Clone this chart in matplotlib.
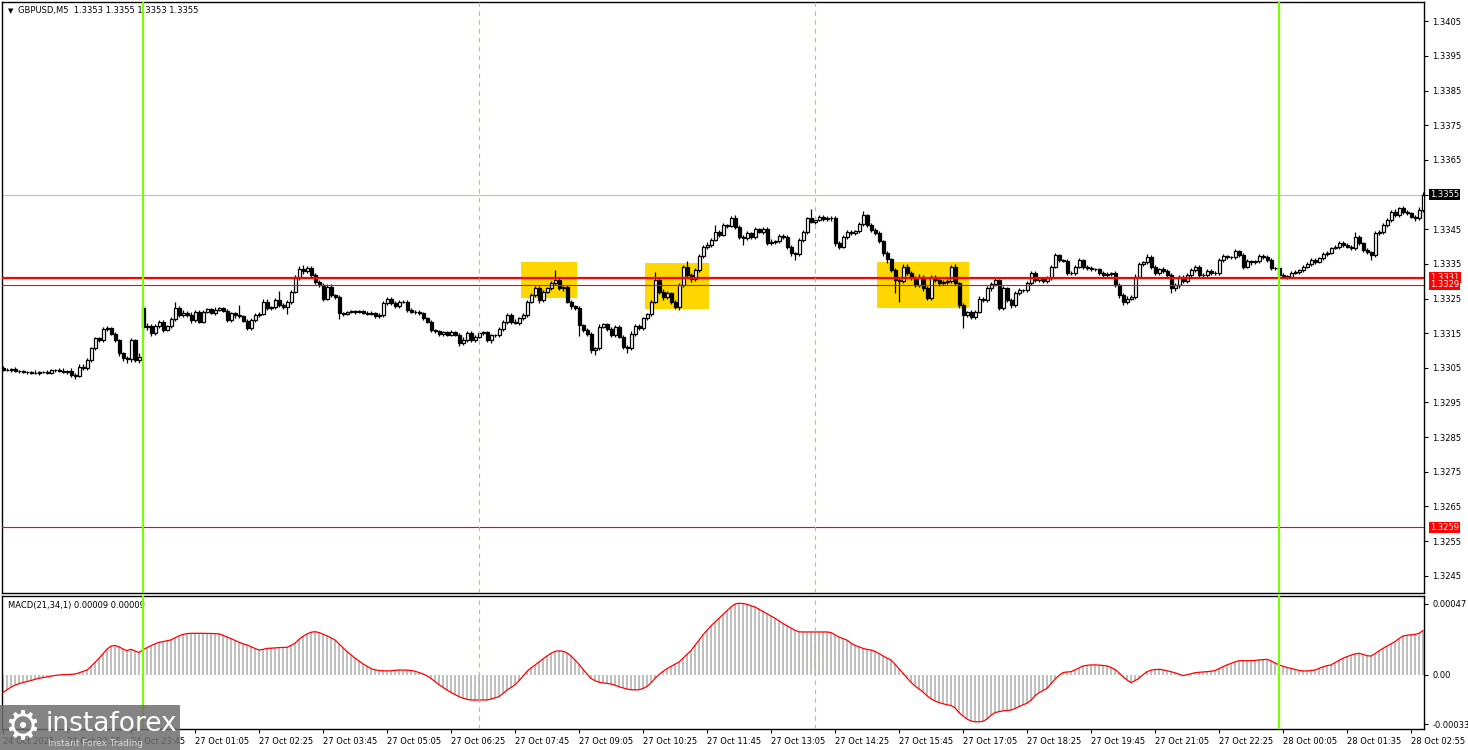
import numpy as np
import matplotlib.pyplot as plt
from matplotlib.patches import Rectangle

# GBPUSD M5 candles, prices as pips above 1.3300
base = 1.3300
first_open = 5.0
gap_opens = {35: 22.2}   # monday open gap

close_pips = [
    4.5, 4.4, 4.6, 4.2, 4.0, 3.9, 3.8, 3.6, 3.4, 3.8, 3.9, 3.5, 4.3, 4.4, 4.1, 3.8, 4.2, 3.0, 2.7, 5.3,
    4.9, 7.2, 10.6, 13.5, 13.0, 16.1, 16.4, 14.9, 13.0, 9.2, 7.7, 7.5, 13.0, 7.2, 8.0, 16.8, 17.2, 15.0, 17.0, 18.3,
    16.0, 17.0, 19.0, 22.2, 20.2, 20.7, 20.2, 18.8, 21.2, 18.3, 21.2, 22.1, 20.8, 21.7, 22.2, 21.4, 18.8, 20.7, 20.2, 19.9,
    18.6, 16.4, 18.8, 20.2, 20.5, 24.1, 22.2, 22.5, 24.6, 23.1, 22.6, 24.1, 27.0, 30.8, 33.5, 32.8, 33.8, 31.8, 29.9, 28.8,
    25.0, 28.4, 26.0, 25.3, 20.7, 20.5, 21.0, 21.3, 21.0, 21.4, 20.8, 20.5, 20.9, 20.0, 20.3, 23.6, 25.0, 23.6, 22.8, 24.1,
    24.1, 21.7, 21.2, 21.0, 20.7, 19.3, 18.3, 16.0, 15.5, 14.7, 15.2, 14.6, 15.2, 14.5, 12.1, 13.0, 15.0, 13.0, 14.0, 15.0,
    15.2, 13.0, 14.5, 14.4, 16.2, 18.3, 20.2, 18.3, 18.0, 19.3, 20.2, 24.1, 26.0, 27.9, 24.6, 27.0, 27.9, 29.4, 30.3, 27.9,
    28.2, 24.1, 22.7, 22.2, 17.3, 16.0, 14.7, 10.1, 10.6, 16.9, 17.5, 16.2, 14.5, 16.9, 14.0, 11.1, 10.6, 14.9, 17.0, 16.4,
    19.3, 20.5, 24.1, 30.3, 27.0, 25.5, 26.5, 24.0, 22.6, 28.9, 34.0, 31.8, 30.7, 33.2, 37.3, 39.9, 40.5, 42.0, 44.3, 43.4,
    46.2, 46.0, 48.1, 45.7, 42.8, 42.5, 43.8, 42.8, 45.0, 44.3, 45.0, 40.9, 41.3, 41.5, 43.0, 42.8, 40.0, 38.0, 37.8, 41.9,
    44.3, 48.1, 47.2, 47.8, 48.5, 48.0, 48.1, 48.2, 41.0, 40.0, 42.8, 44.3, 43.8, 44.4, 46.4, 49.0, 46.2, 44.8, 43.8, 41.5,
    38.0, 36.3, 33.2, 30.3, 30.0, 34.2, 32.5, 30.8, 29.0, 31.3, 28.0, 25.1, 31.3, 30.3, 29.4, 29.8, 30.0, 34.2, 29.4, 23.1,
    20.2, 21.0, 19.8, 21.2, 25.0, 24.6, 27.9, 29.2, 30.2, 22.2, 27.9, 24.6, 23.1, 26.5, 27.4, 27.4, 29.4, 32.3, 30.3, 30.8,
    30.0, 31.0, 34.2, 37.5, 36.1, 35.9, 32.3, 32.5, 34.2, 36.1, 34.2, 33.8, 33.5, 33.5, 32.3, 31.8, 32.0, 32.3, 29.0, 26.0,
    24.1, 25.0, 25.5, 31.3, 35.1, 35.6, 37.1, 34.2, 32.3, 33.5, 33.0, 31.8, 27.9, 28.9, 31.3, 30.0, 31.8, 33.2, 34.2, 31.8,
    31.8, 33.0, 32.5, 32.3, 36.1, 37.3, 37.0, 37.0, 38.6, 37.6, 34.2, 35.9, 35.4, 35.8, 37.4, 37.0, 36.1, 33.7, 33.8, 31.8,
    31.5, 31.3, 32.5, 32.7, 33.2, 34.2, 35.1, 36.1, 35.6, 36.6, 37.9, 38.1, 39.7, 40.0, 41.0, 40.4, 40.0, 39.6, 42.8, 40.9,
    39.0, 38.3, 37.6, 43.8, 44.3, 46.2, 47.6, 50.1, 49.1, 51.0, 50.0, 49.6, 48.6, 48.1, 50.5, 55.0,
]

upper_wick = [
    0.4, 0.5, 0.3, 0.5, 0.3, 0.4, 0.3, 0.3, 0.8, 0.4, 0.3, 0.5, 0.4, 0.3, 0.5, 0.9, 0.3, 0.6, 0.5, 0.9,
    0.8, 0.6, 0.4, 0.5, 0.3, 0.6, 0.8, 0.5, 0.3, 0.4, 0.5, 0.8, 0.7, 0.4, 1.2, 0.8, 0.7, 0.5, 0.6, 0.6,
    0.5, 0.4, 0.6, 1.9, 0.5, 0.9, 0.6, 0.8, 0.5, 0.4, 0.5, 0.3, 0.3, 0.8, 0.4, 0.3, 0.6, 0.5, 0.5, 2.9,
    0.4, 0.6, 0.5, 0.5, 0.5, 0.7, 0.9, 0.4, 0.6, 2.5, 0.5, 0.6, 0.4, 0.9, 1.0, 1.2, 0.5, 0.6, 0.6, 0.5,
    0.6, 0.7, 0.8, 0.4, 0.6, 0.3, 0.3, 0.4, 0.3, 0.4, 0.3, 0.5, 0.4, 0.3, 0.4, 0.6, 0.5, 0.5, 0.6, 0.4,
    0.4, 0.6, 0.5, 0.5, 0.6, 0.4, 0.5, 0.6, 0.3, 0.4, 0.5, 0.3, 0.6, 0.3, 0.5, 0.8, 0.5, 0.6, 0.4, 0.5,
    0.4, 0.5, 0.4, 0.3, 0.5, 0.6, 0.5, 0.6, 0.8, 0.5, 0.6, 0.4, 0.5, 0.6, 0.8, 0.5, 0.4, 0.6, 2.9, 0.6,
    0.5, 0.6, 0.4, 0.5, 0.6, 0.4, 0.5, 0.6, 0.5, 0.6, 0.4, 0.5, 0.6, 0.5, 0.4, 0.5, 0.4, 0.6, 0.5, 0.5,
    0.5, 0.4, 0.6, 2.4, 0.5, 0.6, 0.8, 0.5, 0.6, 0.5, 0.6, 1.8, 0.5, 0.6, 0.5, 0.5, 0.8, 0.6, 1.9, 0.5,
    0.5, 0.4, 0.6, 1.0, 0.5, 0.4, 0.6, 0.5, 0.5, 0.4, 0.6, 0.6, 0.8, 0.4, 0.5, 0.6, 0.5, 0.4, 0.5, 0.5,
    0.6, 0.5, 2.8, 0.4, 0.6, 0.5, 0.6, 0.5, 0.6, 0.5, 0.6, 0.5, 0.5, 0.4, 0.6, 1.3, 0.5, 0.6, 0.5, 0.6,
    0.5, 0.6, 0.5, 0.6, 0.5, 0.9, 0.8, 0.5, 0.6, 0.8, 0.6, 0.5, 0.6, 0.5, 0.6, 0.5, 0.6, 0.5, 0.9, 0.5,
    0.6, 0.5, 0.6, 0.5, 0.6, 0.5, 0.6, 0.5, 0.6, 0.5, 0.6, 0.5, 0.6, 0.6, 0.5, 0.4, 0.6, 0.6, 0.5, 0.5,
    0.5, 0.6, 0.5, 0.5, 0.4, 0.3, 0.6, 0.5, 0.6, 0.5, 0.4, 0.5, 0.6, 0.3, 0.3, 0.5, 0.6, 0.4, 0.5, 0.6,
    0.5, 0.6, 0.5, 0.7, 0.5, 0.3, 0.6, 0.5, 0.6, 0.4, 0.5, 0.6, 0.5, 0.6, 0.5, 0.6, 0.5, 0.5, 0.6, 0.5,
    0.6, 0.4, 0.5, 0.5, 0.6, 0.5, 0.3, 0.4, 0.6, 0.5, 0.5, 0.6, 0.3, 0.4, 0.3, 0.5, 0.5, 0.6, 0.3, 0.5,
    0.5, 0.4, 0.5, 0.4, 0.4, 0.5, 0.5, 0.6, 0.5, 0.3, 0.5, 0.5, 0.3, 0.5, 0.6, 0.5, 0.5, 0.5, 1.5, 0.5,
    0.5, 0.6, 0.5, 0.6, 0.4, 0.6, 0.5, 0.5, 0.6, 0.5, 0.6, 0.5, 0.5, 0.6, 0.8, 0.6,
]

lower_wick = [
    0.4, 0.3, 0.5, 0.3, 0.4, 0.3, 0.5, 0.4, 0.3, 0.5, 0.4, 0.3, 0.4, 0.5, 0.3, 0.4, 0.5, 0.6, 0.8, 0.4,
    0.5, 0.6, 0.5, 0.4, 0.6, 0.5, 0.4, 0.5, 0.6, 0.7, 0.6, 1.2, 0.8, 0.6, 0.8, 2.9, 0.8, 0.9, 0.5, 0.6,
    0.6, 0.5, 0.5, 0.6, 0.5, 0.6, 0.5, 0.8, 0.6, 0.5, 0.5, 0.3, 0.4, 0.6, 0.3, 0.4, 0.5, 0.6, 0.9, 0.5,
    0.5, 0.6, 0.5, 0.6, 0.5, 0.4, 0.6, 0.6, 0.5, 0.6, 0.5, 2.0, 0.6, 0.5, 0.4, 0.6, 0.4, 0.5, 0.6, 0.6,
    0.6, 0.5, 0.6, 0.5, 1.5, 0.6, 0.4, 0.3, 0.4, 0.3, 0.4, 0.3, 0.4, 0.5, 0.6, 0.5, 0.4, 0.5, 0.4, 0.5,
    0.4, 0.5, 0.5, 0.6, 0.5, 0.6, 0.5, 0.6, 0.5, 0.4, 0.5, 0.4, 0.5, 0.4, 0.8, 0.6, 0.5, 0.6, 0.5, 0.4,
    0.5, 0.6, 0.8, 0.4, 0.6, 0.5, 0.6, 0.7, 0.5, 0.6, 0.5, 0.6, 0.5, 0.6, 0.8, 0.5, 0.4, 0.5, 0.6, 0.5,
    0.6, 0.5, 0.6, 0.5, 3.0, 0.6, 0.5, 0.8, 1.4, 0.6, 0.5, 0.6, 0.5, 0.6, 0.5, 0.6, 1.4, 0.5, 0.6, 0.5,
    0.6, 0.5, 0.6, 0.5, 0.6, 0.8, 0.6, 0.5, 0.6, 0.8, 0.6, 0.5, 0.8, 0.6, 0.5, 0.6, 0.5, 0.6, 0.5, 0.6,
    0.5, 0.6, 0.5, 0.6, 0.5, 2.0, 0.6, 0.5, 0.6, 0.5, 0.6, 0.5, 0.6, 0.5, 0.6, 0.5, 0.6, 0.8, 1.7, 0.6,
    0.5, 0.6, 0.5, 0.8, 0.5, 0.6, 0.5, 0.6, 0.8, 0.6, 0.5, 0.6, 0.5, 0.6, 0.5, 0.6, 0.5, 0.6, 0.5, 0.6,
    0.6, 1.0, 0.6, 3.8, 5.9, 0.6, 0.8, 0.6, 0.8, 0.6, 0.8, 0.6, 0.5, 0.6, 0.8, 0.5, 0.6, 0.5, 0.6, 0.8,
    3.8, 0.6, 0.8, 0.6, 0.5, 0.6, 0.5, 0.6, 0.5, 0.6, 0.5, 0.6, 0.8, 0.5, 0.6, 0.5, 0.6, 0.5, 0.6, 0.5,
    0.6, 0.5, 0.6, 0.5, 0.6, 0.5, 0.6, 0.5, 0.6, 0.5, 0.6, 0.5, 0.6, 0.5, 0.6, 0.5, 0.6, 0.5, 0.6, 0.8,
    1.0, 0.6, 0.5, 0.6, 0.5, 0.6, 0.5, 0.6, 0.5, 0.6, 0.5, 0.6, 1.2, 0.6, 0.8, 0.5, 0.6, 0.5, 0.6, 0.5,
    0.6, 0.5, 0.6, 0.5, 0.6, 0.5, 0.6, 0.5, 0.6, 0.5, 0.6, 0.5, 0.6, 0.5, 0.6, 0.5, 0.6, 0.5, 0.6, 0.6,
    0.5, 0.6, 0.5, 0.4, 0.5, 0.5, 0.5, 0.6, 0.5, 0.4, 0.5, 0.5, 0.4, 0.5, 0.6, 0.5, 0.5, 0.5, 0.5, 0.6,
    0.6, 0.5, 1.6, 0.6, 0.5, 0.6, 0.5, 0.6, 0.5, 0.6, 0.5, 0.6, 0.5, 0.6, 0.5, 0.6,
]

# MACD(21,34,1) main line, units of 0.00001
macd_pts = [
    -11.9, -10.0, -8.3, -7.0, -6.0, -5.2, -4.6, -3.9, -3.1, -2.4, -1.9, -1.5, -1.0, -0.5, -0.2, 0.0, 0.1, 0.2, 0.5, 1.2,
    2.2, 3.1, 5.5, 8.2, 10.9, 14.0, 17.0, 19.0, 19.4, 18.6, 17.0, 16.0, 16.9, 15.8, 14.7, 16.5, 18.0, 19.3, 20.5, 21.5,
    22.0, 22.6, 23.1, 24.5, 25.8, 26.8, 27.3, 27.5, 27.5, 27.5, 27.5, 27.4, 27.4, 27.3, 27.1, 26.2, 25.0, 24.0, 22.8, 21.6,
    20.5, 19.8, 18.6, 17.4, 16.4, 16.8, 17.5, 17.6, 17.8, 18.0, 18.1, 18.2, 19.4, 20.9, 23.5, 25.5, 27.1, 28.2, 28.6, 28.0,
    26.9, 25.8, 24.5, 23.1, 20.5, 18.0, 15.3, 13.2, 11.0, 9.1, 7.2, 5.6, 4.0, 3.2, 2.8, 2.6, 2.5, 2.6, 2.9, 3.1,
    3.1, 3.0, 2.8, 2.3, 1.4, 0.5, -0.8, -2.5, -4.6, -6.6, -8.4, -10.2, -11.8, -13.2, -14.6, -15.6, -16.4, -16.8, -16.9, -16.8,
    -16.8, -16.8, -16.2, -15.4, -14.6, -12.5, -10.2, -8.5, -6.8, -4.0, -1.0, 2.2, 4.5, 6.4, 8.5, 10.5, 12.5, 14.2, 15.5, 15.8,
    15.6, 14.5, 12.5, 9.8, 7.0, 3.5, 0.5, -2.5, -4.0, -5.0, -5.5, -5.8, -6.2, -7.0, -8.0, -8.8, -9.5, -10.0, -10.1, -10.0,
    -9.2, -7.8, -5.5, -2.5, 0.0, 2.2, 4.0, 5.5, 7.0, 8.4, 11.0, 13.5, 16.0, 19.5, 23.0, 26.5, 29.5, 32.5, 35.0, 37.5,
    40.0, 42.5, 45.0, 47.0, 47.5, 47.3, 46.8, 45.8, 45.0, 43.5, 42.0, 40.5, 39.0, 37.5, 35.8, 34.0, 32.5, 31.0, 29.5, 28.5,
    28.4, 28.4, 28.4, 28.4, 28.4, 28.4, 28.4, 28.0, 26.5, 25.0, 24.0, 23.0, 21.0, 19.5, 18.5, 17.5, 16.8, 16.4, 15.5, 14.0,
    12.5, 11.0, 9.8, 7.0, 4.0, 1.0, -2.2, -5.0, -7.5, -9.5, -11.5, -14.0, -16.0, -17.5, -18.5, -19.3, -20.0, -20.5, -22.0, -25.2,
    -27.5, -29.5, -30.8, -31.3, -31.3, -31.0, -29.5, -27.0, -25.2, -24.6, -24.0, -23.8, -23.5, -22.5, -21.2, -20.0, -19.0, -17.0, -14.0, -12.0,
    -10.5, -9.1, -6.0, -3.0, -0.5, 1.4, 1.8, 2.0, 3.2, 4.5, 5.8, 6.2, 6.5, 6.5, 6.4, 6.1, 5.8, 4.8, 3.5, 1.2,
    -1.3, -3.5, -5.3, -4.0, -2.4, 0.0, 2.0, 3.0, 3.4, 3.6, 3.2, 2.6, 2.0, 1.2, 0.3, -0.6, 0.0, 0.6, 1.3, 1.6,
    1.8, 2.0, 2.3, 2.7, 4.0, 5.3, 6.5, 7.5, 8.5, 9.3, 9.3, 9.3, 9.3, 9.5, 9.8, 10.0, 10.2, 9.2, 7.8, 6.5,
    5.6, 4.8, 4.2, 3.5, 2.8, 2.5, 2.5, 2.8, 3.1, 4.2, 5.2, 6.0, 6.5, 8.0, 9.5, 10.9, 12.0, 13.0, 13.8, 14.2,
    13.5, 12.6, 12.4, 14.0, 15.8, 17.5, 19.0, 20.5, 22.0, 24.0, 25.7, 26.2, 26.5, 26.8, 27.5, 29.3,
]

time_labels = ["24 Oct 2025", "24 Oct 22:25", "24 Oct 23:45", "27 Oct 01:05", "27 Oct 02:25",
               "27 Oct 03:45", "27 Oct 05:05", "27 Oct 06:25", "27 Oct 07:45", "27 Oct 09:05",
               "27 Oct 10:25", "27 Oct 11:45", "27 Oct 13:05", "27 Oct 14:25", "27 Oct 15:45",
               "27 Oct 17:05", "27 Oct 18:25", "27 Oct 19:45", "27 Oct 21:05", "27 Oct 22:25",
               "28 Oct 00:05", "28 Oct 01:35", "28 Oct 02:55"]
label_bars = list(range(0, 353, 16))

price_ticks = [1.3245, 1.3255, 1.3265, 1.3275, 1.3285, 1.3295, 1.3305, 1.3315,
               1.3325, 1.3335, 1.3345, 1.3355, 1.3365, 1.3375, 1.3385, 1.3395, 1.3405]
levels = [1.3331, 1.3329, 1.3259]
last_price = 1.3355
day_lines = [35, 319]        # green separators (bar index)
session_lines = [119, 203]   # dashed
# highlighted zones: (first bar, last bar, low price, high price)
zones = [(130, 143, 1.33252, 1.33355), (161, 176, 1.33220, 1.33352), (219, 241, 1.33223, 1.33355)]

# ---- build ohlc ----
c = base + np.array(close_pips) / 1e4
o = np.r_[base + first_open / 1e4, c[:-1]]
for k, v in gap_opens.items():
    o[k] = base + v / 1e4
hi = np.maximum(o, c) + np.array(upper_wick) / 1e4
lo = np.minimum(o, c) - np.array(lower_wick) / 1e4
x = np.arange(len(c))
macd = np.array(macd_pts) / 1e5

W, H = 1468, 750
def box(l, t, r, b):
    return [l / W, 1 - b / H, (r - l) / W, (b - t) / H]

plt.rcParams['font.family'] = 'DejaVu Sans'
fig = plt.figure(figsize=(W / 100, H / 100), dpi=100)
ax = fig.add_axes(box(2, 2, 1424, 593))
ax2 = fig.add_axes(box(2, 596, 1424, 729))

# zones behind candles
for b0, b1, p0, p1 in zones:
    ax.add_patch(Rectangle((b0 - 0.5, p0), b1 - b0 + 1, p1 - p0, color='#ffd700', zorder=1, lw=0))

# candles
ax.vlines(x, lo, hi, color='black', lw=0.9, zorder=3)
up = c >= o
ax.bar(x[up], (c - o)[up], bottom=o[up], width=0.75, facecolor='white', edgecolor='black', lw=0.9, zorder=4)
ax.bar(x[~up], (o - c)[~up], bottom=c[~up], width=0.75, facecolor='black', edgecolor='black', lw=0.9, zorder=4)

ax.axhline(last_price, color='#c0c0c0', lw=0.8, zorder=2)
ax.axhline(levels[0], color='red', lw=1.6, zorder=5)
ax.axhline(levels[1], color='red', lw=0.8, zorder=5)
ax.axhline(levels[2], color='red', lw=0.8, zorder=5)

for a in (ax, ax2):
    for d in day_lines:
        a.axvline(d, color='#7cfc00', lw=1.6, zorder=6)
    for d in session_lines:
        a.axvline(d, color='#8fe040', lw=0.8, dashes=(4, 4), zorder=6)

ax.set_xlim(-0.25, 355.25)
ax.set_ylim(1.324001, 1.341057)
ax.set_xticks([])
ax.yaxis.tick_right()
ax.set_yticks(price_ticks)
# the last-price tag covers the tick text at the same level
ax.set_yticklabels(['' if abs(p - last_price) < 1e-9 else '%.4f' % p for p in price_ticks])
ax.tick_params(axis='y', length=3, width=0.8, pad=3, labelsize=6)

def price_tag(p, bg):
    ax.annotate('%.4f' % p, xy=(1, p), xycoords=('axes fraction', 'data'), xytext=(4.5, 0),
                textcoords='offset points', ha='left', va='center', fontsize=6, color='white',
                bbox=dict(boxstyle='square,pad=0.12', fc=bg, ec='none'), annotation_clip=False, zorder=10)

price_tag(last_price, 'black')
price_tag(levels[0], 'red')
price_tag(levels[1], 'red')
price_tag(levels[2], 'red')

ax.text(0.004, 0.985, '\u25bc', transform=ax.transAxes, fontsize=5, va='center', ha='left')
ax.text(0.011, 0.985, 'GBPUSD,M5  1.3353 1.3355 1.3353 1.3355', transform=ax.transAxes,
        fontsize=6, va='center', ha='left')

# MACD panel
ax2.bar(x, macd, width=0.5, color='#c0c0c0', zorder=2)
ax2.plot(x, macd, color='red', lw=0.9, zorder=3)
ax2.set_xlim(-0.25, 355.25)
ax2.set_ylim(-36.1e-5, 52.3e-5)
ax2.yaxis.tick_right()
ax2.set_yticks([0.00047, 0.0, -0.00033])
ax2.set_yticklabels(['0.00047', '0.00', '-0.00033'])
ax2.tick_params(axis='y', length=3, width=0.8, pad=3, labelsize=6)
ax2.set_xticks(label_bars)
ax2.set_xticklabels(time_labels, ha='left')
ax2.tick_params(axis='x', length=3, width=0.8, pad=3, labelsize=6)
ax2.text(0.004, 0.93, 'MACD(21,34,1) 0.00009 0.00009', transform=ax2.transAxes,
         fontsize=6, va='center', ha='left')

for a in (ax, ax2):
    for s in a.spines.values():
        s.set_linewidth(1.0)

# watermark
fig.patches.append(Rectangle((0, 0), 180 / W, 45 / H, transform=fig.transFigure,
                             facecolor='#6e6e6e', alpha=0.85, edgecolor='none', zorder=20))
fig.text(4 / W, 22 / H, '\u2699', color='white', fontsize=29, va='center', ha='left', zorder=21)
fig.text(46 / W, 26 / H, 'instaforex', color='white', fontsize=19, va='center', ha='left', zorder=21)
fig.text(48 / W, 7 / H, 'Instant Forex Trading', color='#d8d8d8', fontsize=6.5, va='center', ha='left', zorder=21)

fig.savefig('out.png', dpi=100)
